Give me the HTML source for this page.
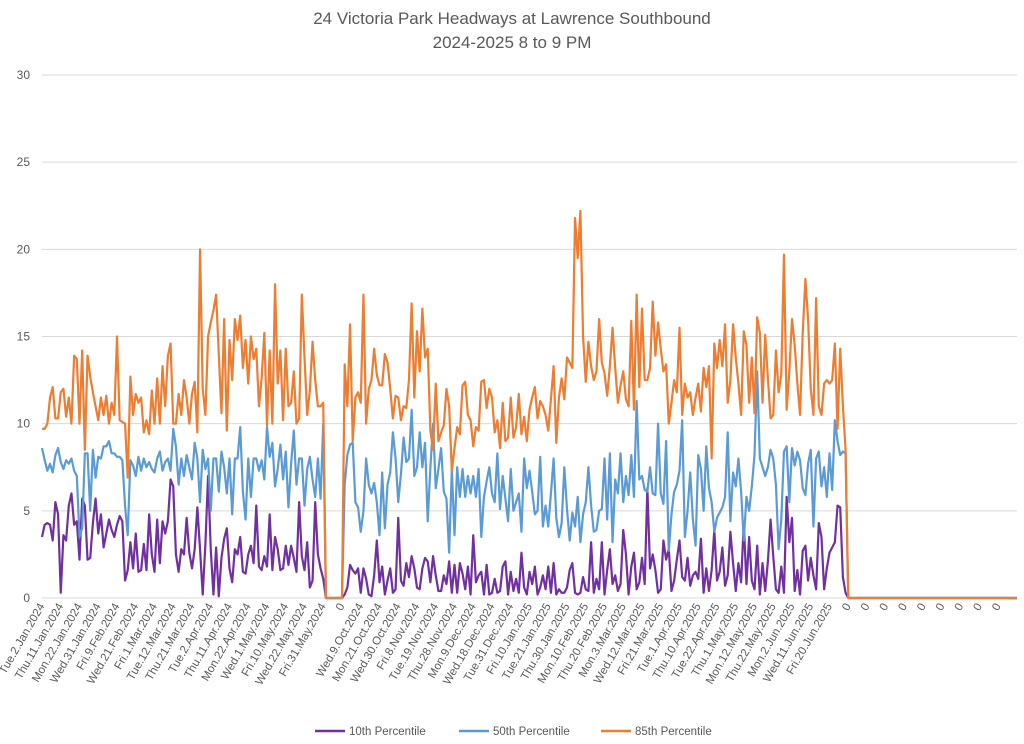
<!DOCTYPE html>
<html><head><meta charset="utf-8"><style>
body{margin:0;background:#fff;}
svg{display:block;font-family:"Liberation Sans",Calibri,sans-serif;}
</style></head><body>
<svg id="chart" width="1024" height="744">
<text x="512" y="24" text-anchor="middle" font-size="17" fill="#595959">24 Victoria Park Headways at Lawrence Southbound</text>
<text x="512" y="48" text-anchor="middle" font-size="17" fill="#595959">2024-2025 8 to 9 PM</text>
<g id="grid"></g><g id="lines"></g><g id="xlabels"></g>
<g>
<g><line x1="315" y1="731" x2="345" y2="731" stroke="#7030a0" stroke-width="2.5"/><text x="349" y="735" font-size="11.5" fill="#595959">10th Percentile</text></g>
<g><line x1="459" y1="731" x2="489" y2="731" stroke="#5b9bd5" stroke-width="2.5"/><text x="493" y="735" font-size="11.5" fill="#595959">50th Percentile</text></g>
<g><line x1="601" y1="731" x2="631" y2="731" stroke="#ed7d31" stroke-width="2.5"/><text x="635" y="735" font-size="11.5" fill="#595959">85th Percentile</text></g>
</g>
</svg>
<script>
const yTicks=[0,5,10,15,20,25,30];
const tickLabels=["Tue.2.Jan.2024","Thu.11.Jan.2024","Mon.22.Jan.2024","Wed.31.Jan.2024","Fri.9.Feb.2024","Wed.21.Feb.2024","Fri.1.Mar.2024","Tue.12.Mar.2024","Thu.21.Mar.2024","Tue.2.Apr.2024","Thu.11.Apr.2024","Mon.22.Apr.2024","Wed.1.May.2024","Fri.10.May.2024","Wed.22.May.2024","Fri.31.May.2024","0","Wed.9.Oct.2024","Mon.21.Oct.2024","Wed.30.Oct.2024","Fri.8.Nov.2024","Tue.19.Nov.2024","Thu.28.Nov.2024","Mon.9.Dec.2024","Wed.18.Dec.2024","Tue.31.Dec.2024","Fri.10.Jan.2025","Tue.21.Jan.2025","Thu.30.Jan.2025","Mon.10.Feb.2025","Thu.20.Feb.2025","Mon.3.Mar.2025","Wed.12.Mar.2025","Fri.21.Mar.2025","Tue.1.Apr.2025","Thu.10.Apr.2025","Tue.22.Apr.2025","Thu.1.May.2025","Mon.12.May.2025","Thu.22.May.2025","Mon.2.Jun.2025","Wed.11.Jun.2025","Fri.20.Jun.2025","0","0","0","0","0","0","0","0","0"];
const p85=[9.7,9.7,10,11.5,12.1,10.3,10.3,11.8,12,10.4,11.5,10,13.9,13.7,10,14.2,8.5,13.9,12.7,11.8,11,10.2,11.5,10.5,11.6,10,11.2,10.5,15,10.2,10.1,10,6.9,12.7,10.5,11.7,11.2,11.5,9.5,10.2,9.4,11.9,10,12.6,10,13.3,11,13.9,14.6,10,10,11.7,10.5,12.5,11.5,10,11.7,12.4,9.5,20,12,10.5,15,15.8,16.5,17.4,14,10.6,16,9.6,14.8,12.5,16,14.8,16.2,13.2,14.8,12.3,15,13.7,14.3,11,12.6,15.2,9.9,14.2,10,18,12.3,14.2,10.2,14.3,11,11.2,13,10,10.3,17.4,13.8,10.5,11.9,14.7,12.5,11,11,11.2,0,
0,0,0,0,0,0,
13.4,11,15.7,9.0,11.5,11.8,11.2,17.4,10.0,12.0,12.5,14.3,12.8,12.2,12.2,14.0,13.5,12.0,10.3,11.6,11.5,
10.2,11.0,10.9,12.5,16.9,11.5,15.3,13.0,16.6,13.8,14.3,9.6,8.5,12.3,9.0,9.5,9.9,12.0,11.0,7.3,
8.6,9.8,9.4,12.2,12.4,10.5,10.2,8.7,9.8,9.6,12.4,12.5,10.9,12.0,11.5,9.5,10.2,8.6,11.2,9.0,
9.2,11.5,9.2,9.8,11.7,9.4,10.4,9.0,10.8,11.5,12.1,10.3,11.3,11.0,10.5,9.6,11.4,13.3,8.9,11.5,
12.6,11.4,13.8,13.5,13.2,21.8,19.5,22.2,15.0,12.4,14.7,13.3,12.5,13.0,16,13.5,12.9,11.6,13.3,15.5,
13.2,11.2,12.2,13.0,11.4,11,15.9,10.8,17.4,12.1,16.6,12.5,12.5,13.2,17.0,13.9,15.8,14.3,13,13.4,
10,11.2,12.5,11.8,15.5,10.5,12.3,11.5,11.8,10.5,11.5,12.3,10.7,13.2,12.1,13.3,8.0,14.6,13.2,14.8,
13.3,15.7,11.2,12.5,15.7,13.8,12.3,10.5,15.3,14.5,11.2,13.8,10.6,16.1,15.2,11.2,15.1,12.6,10.3,10.5,
14.2,11.8,12.8,19.7,10.8,13.0,16.0,14.5,12.3,10.5,15.2,18.3,16.0,12.0,10.5,17.2,11.0,10.5,12.3,12.5,
12.3,12.5,14.6,9.7,14.3,11.0,8.5,
0,0,0,0,0,0,0,0,0,0,0,0,0,0,0,0,0,0,0,0,0,0,0,0,0,0,0,0,0,0,0,0,0,0,0,0,0,0,0,0,0,0,0,0,0,0,0,0,0,0,0,0,0,0,0,0,0,0,0,0,0,0,0,0];
const p50=[8.6,7.9,7.3,7.7,7.2,8.2,8.6,7.8,7.4,7.9,7.7,8,7.3,7.0,3.5,4.0,8.3,8.3,5,8.5,6.9,8.1,8.0,8.7,8.7,9,8.3,8.3,8.1,8.1,7.9,5.3,3.6,7.9,7.6,7.0,8.1,7.3,8.0,7.5,7.8,7.4,7.2,8,8.4,7.3,7.8,8.0,7.3,9.7,8.7,6.5,8,7.0,8.2,7.5,6.8,8.9,8.0,5.5,8.5,7.4,8,5,8,8,6.1,8.4,7.5,6,8,4.8,8,8,9.8,6.1,4.5,8,5.8,8,8,7.3,7.9,6.8,9.8,8.1,8.9,6.4,7.4,8.8,6.8,8.4,5.2,7.7,9.6,6.5,8,8,5.3,7.4,8.1,6.8,5.8,8,5.7,10,0,
0,0,0,0,0,0,
6.5,8.2,8.8,8.9,5.5,5.2,3.8,5.0,8.0,6.5,6.0,6.6,5.5,3.6,7.2,4.0,6.5,7.2,9.5,8.0,5.5,
7.1,9.2,7.8,8.0,10.8,7.0,7.5,9.5,7.5,8.9,4.4,7.5,10.0,6.3,7.4,8.6,6.1,5.7,2.6,7.4,
3.6,7.5,5.8,7.4,5.8,7.0,6.0,7.0,5.8,7.4,3.5,5.8,6.7,7.5,6.0,5.5,8.3,5.1,7.0,5.7,
4.4,7.4,5.0,5.5,6.0,3.8,8.0,6.3,7.3,6.1,4.8,5.0,8.1,4.1,5.3,4.1,6.0,8.0,4.6,3.5,
4.3,7.5,5.1,3.3,4.9,4.1,5.8,3.2,4.8,5.5,7.5,5.3,3.8,3.9,5.0,5.1,8.0,4.5,8.3,3.2,
6.8,6.0,8.3,5.5,7.0,5.9,8.2,5.8,11.3,6.8,7.0,6.2,6.1,7.5,6.0,5.9,10.0,6.0,5.4,9.0,
2.7,4.8,6.1,6.5,7.3,10.2,3.5,5.0,7.2,4.5,3.0,8.2,7.4,5.0,8.7,6.3,5.5,3.8,4.6,4.9,
5.2,5.8,9.5,4.4,7.2,6.4,8.0,6.1,3.3,5.8,5.0,6.4,8.2,13.0,8.0,7.5,7.0,7.5,8.5,8.0,
6.5,2.8,4.5,8.4,8.7,5.5,8.6,7.6,8.4,7.9,6.3,5.9,7.7,8.5,4.1,8.0,8.4,6.4,7.5,5.8,
8.3,6.2,10.2,9.0,8.2,8.4,8.3,
0,0,0,0,0,0,0,0,0,0,0,0,0,0,0,0,0,0,0,0,0,0,0,0,0,0,0,0,0,0,0,0,0,0,0,0,0,0,0,0,0,0,0,0,0,0,0,0,0,0,0,0,0,0,0,0,0,0,0,0,0,0,0,0];
const p10=[3.5,4.2,4.3,4.2,3.3,5.5,4.8,0.3,3.6,3.3,5.3,6.0,4.2,4.4,2.2,5.7,5.3,2.2,2.3,4.3,5.7,3.7,4.8,2.9,3.7,4.5,3.9,3.5,4.2,4.7,4.4,1.0,1.6,3.2,1.7,3.7,1.5,1.6,3.1,1.6,4.8,2.5,1.5,4.5,2.0,4.4,3.7,4.4,6.8,6.4,2.5,1.5,2.8,2.5,4.6,2.6,1.7,2.8,5.2,2.8,0.2,3.1,7.0,2.8,0.2,2.9,0.1,2.3,3.4,4.0,1.7,0.9,2.8,2.5,3.5,1.5,1.4,2.5,3,2,5.3,1.8,1.6,2.4,1.8,4.8,1.6,3.5,2.8,1.6,1.7,3.0,1.9,3.0,2.3,1.5,5.5,2.4,1.6,3.2,0.6,1.0,5.5,2.5,1.7,1.1,0,
0,0,0,0,0,0,
0.2,0.6,1.9,1.6,1.4,1.7,0.3,1.7,1.1,0.2,0.1,1.3,3.3,0.9,1.8,0.2,1.0,1.7,0.3,0.5,4.6,
1.0,0.7,2.0,1.2,2.4,1.7,0.6,0.5,1.7,2.3,2.1,0.9,2.4,1.3,0.4,0.4,1.3,0.8,2.1,0.3,
1.9,0.3,2.0,1.4,0.5,1.8,0.2,3.6,0.9,1.3,1.5,0.2,1.9,0.2,0.3,1.1,0.3,0.4,1.8,2.1,
0.2,1.5,0.4,1.1,0.3,2.6,0.6,0.2,1.5,0.8,1.8,0.2,0.6,1.3,0.5,1.8,0.3,2.0,0.2,0.5,
0.3,0.3,0.6,1.6,2.0,0.3,0.2,0.3,1.2,0.5,0.4,3.2,0.3,1.1,0.5,3.2,0.2,1.6,2.8,0.8,
1.3,0.4,0.8,3.9,2.5,0.2,1.8,2.6,0.5,0.9,2.3,0.8,6.3,1.7,2.5,1.6,0.3,0.5,3.3,2.2,
2.8,0.4,1.0,2.2,3.3,1.2,1.0,2.3,0.7,1.3,1.5,1.1,3.4,0.3,1.7,0.4,1.6,3.9,1.0,1.5,
2.9,0.7,1.3,3.8,2.0,0.4,2.0,0.9,4.3,0.8,3.5,1.0,0.5,3.0,0.2,2.0,0.4,2.1,4.5,2.4,
0.5,0.3,1.8,0.3,5.8,3.2,4.6,0.4,1.6,0.2,2.7,3.0,1.0,2.3,1.3,0.5,4.3,3.5,0.5,1.7,
2.6,2.9,3.2,5.3,5.2,1.2,0.3,
0,0,0,0,0,0,0,0,0,0,0,0,0,0,0,0,0,0,0,0,0,0,0,0,0,0,0,0,0,0,0,0,0,0,0,0,0,0,0,0,0,0,0,0,0,0,0,0,0,0,0,0,0,0,0,0,0,0,0,0,0,0,0,0];

const NS="http://www.w3.org/2000/svg";
const X0=42,X1=1017,Y0=598,Y1=75,YMAX=30,LABEL_STEP=7;
const N=Math.max(p85.length,p50.length,p10.length);
const xs=i=>X0+i*(X1-X0)/(N-1);
const ys=v=>Y0-v/YMAX*(Y0-Y1);
function mk(tag,attrs,parent){const e=document.createElementNS(NS,tag);for(const k in attrs)e.setAttribute(k,attrs[k]);parent.appendChild(e);return e;}
const grid=document.getElementById('grid');
yTicks.forEach(t=>{
  const l=mk('line',{x1:X0,x2:X1,y1:ys(t),y2:ys(t),stroke:'#d9d9d9','stroke-width':1},grid);
  
  
  const tx=mk('text',{x:30,y:ys(t)+4,'text-anchor':'end','font-size':12,fill:'#595959'},grid);
  tx.textContent=t;
  
  
});
const xl=document.getElementById('xlabels');
tickLabels.forEach((s,k)=>{
  const x=xs(k*LABEL_STEP)+3,y=606;
  const tx=mk('text',{x:x,y:y,'text-anchor':'end','font-size':11.5,fill:'#595959',transform:`rotate(-60 ${x} ${y})`},xl);
  tx.textContent=s;
  
  
});
const lines=document.getElementById('lines');
[[p10,'#7030a0','line-10th-percentile'],[p50,'#5b9bd5','line-50th-percentile'],[p85,'#ed7d31','line-85th-percentile']].forEach(([arr,c,name])=>{
  const d=arr.map((v,i)=>(i?'L':'M')+xs(i).toFixed(2)+' '+ys(v).toFixed(2)).join(' ');
  const p=mk('path',{d:d,fill:'none',stroke:c,'stroke-width':2.2,'stroke-linejoin':'round'},lines);
  
  
});
</script>
</body></html>
